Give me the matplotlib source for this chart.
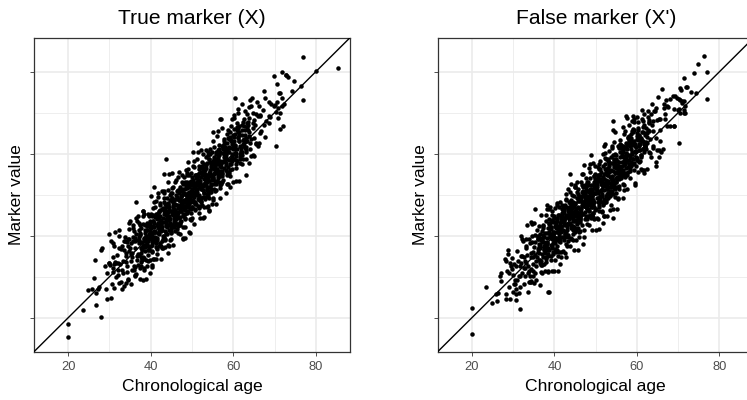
import matplotlib
matplotlib.use("Agg")
import matplotlib.pyplot as plt

plt.rcParams['font.family'] = ['Liberation Sans', 'DejaVu Sans']

# ---------------- data (age, marker value) ----------------
true_core = [
(29.4,30.8),(29.1,26.9),(29.8,33.3),(29.3,24.6),
(30.4,24.8),(30.1,32.9),(30.8,31.1),(30.3,38.6),(30.6,28.2),
(31.4,33.7),(31.1,27.2),(31.8,35.4),(31.3,41.0),(31.6,30.0),(31.0,33.0),
(32.4,41.3),(32.1,31.6),(32.8,28.6),(32.3,37.0),(32.6,33.2),(32.0,33.3),(32.9,36.8),
(33.4,36.5),(33.1,31.7),(33.8,39.8),(33.3,33.9),(33.6,27.7),(33.0,37.6),(33.9,35.8),(33.2,31.0),(33.7,38.6),
(34.4,39.1),(34.1,35.0),(34.8,41.7),(34.3,31.1),(34.6,37.4),(34.0,33.7),(34.9,43.5),(34.2,32.6),(34.7,36.2),(34.5,29.4),(34.2,38.5),
(35.4,34.9),(35.1,28.3),(35.8,39.7),(35.3,33.8),(35.6,42.5),(35.0,37.1),(35.9,32.5),(35.2,38.3),(35.7,41.8),(35.5,35.7),(35.2,35.5),(35.8,38.6),(35.4,31.7),
(36.4,44.4),(36.1,32.3),(36.8,39.0),(36.3,38.6),(36.6,35.0),(36.0,41.2),(36.9,32.8),(36.2,37.0),(36.7,43.6),(36.5,30.6),(36.2,39.5),(36.8,35.6),(36.4,40.4),(36.6,34.0),
(37.4,32.0),(37.1,43.0),(37.8,36.5),(37.3,40.2),(37.6,33.5),(37.0,44.9),(37.9,38.4),(37.2,35.4),(37.7,41.8),(37.5,29.4),(37.2,39.7),(37.8,37.1),(37.4,42.6),(37.6,32.5),(37.3,40.7),(37.9,34.3),
(38.4,37.7),(38.1,46.0),(38.8,34.0),(38.3,39.1),(38.6,41.4),(38.0,36.9),(38.9,29.5),(38.2,44.8),(38.7,38.8),(38.5,42.7),(38.2,34.4),(38.8,40.0),(38.4,45.4),(38.6,37.3),(38.3,32.0),(38.9,39.8),(38.1,34.9),
(39.4,33.9),(39.1,43.0),(39.8,39.9),(39.3,45.4),(39.6,36.8),(39.0,42.3),(39.9,31.0),(39.2,41.5),(39.7,40.3),(39.5,36.4),(39.2,42.8),(39.8,34.1),(39.4,38.8),(39.6,44.9),(39.3,37.6),(39.9,41.1),(39.1,32.7),(39.7,43.6),
(40.4,40.2),(40.1,40.0),(40.8,43.1),(40.3,36.2),(40.6,46.7),(40.0,41.9),(40.9,38.8),(40.2,44.9),(40.7,34.3),(40.5,42.4),(40.2,40.6),(40.8,48.1),(40.4,37.7),(40.6,43.6),(40.3,35.9),(40.9,41.2),(40.1,45.4),(40.7,39.4),(40.3,32.8),
(41.4,35.6),(41.1,44.5),(41.8,40.6),(41.3,45.4),(41.6,39.0),(41.0,47.1),(41.9,41.3),(41.2,34.2),(41.7,43.2),(41.5,36.7),(41.2,44.9),(41.8,50.5),(41.4,39.5),(41.6,42.5),(41.3,38.1),(41.9,46.0),(41.1,40.9),(41.7,49.4),(41.3,37.3),(41.5,44.0),
(42.4,34.4),(42.1,44.7),(42.8,42.1),(42.3,47.6),(42.6,37.5),(42.0,45.7),(42.9,39.3),(42.2,43.8),(42.7,50.8),(42.5,41.1),(42.2,38.1),(42.8,46.5),(42.4,42.7),(42.6,42.8),(42.3,46.3),(42.9,39.9),(42.1,44.0),(42.7,37.0),(42.3,48.0),(42.5,41.5),
(43.4,47.7),(43.1,39.4),(43.8,45.0),(43.3,50.4),(43.6,42.3),(43.0,37.0),(43.9,44.8),(43.2,39.9),(43.7,46.0),(43.5,41.2),(43.2,49.3),(43.8,43.4),(43.4,37.2),(43.6,47.1),(43.3,45.3),(43.9,40.5),(43.1,48.1),(43.7,42.7),(43.3,51.0),(43.5,39.0),(43.8,44.1),
(44.4,41.4),(44.1,47.8),(44.8,39.1),(44.3,43.8),(44.6,49.9),(44.0,42.6),(44.9,46.1),(44.2,37.7),(44.7,48.6),(44.5,44.5),(44.2,51.2),(44.8,40.6),(44.4,46.9),(44.6,43.2),(44.3,53.0),(44.9,42.1),(44.1,45.7),(44.7,38.9),(44.3,48.0),(44.5,44.9),(44.8,50.4),
(45.4,47.4),(45.1,45.6),(45.8,53.1),(45.3,42.7),(45.6,48.6),(45.0,40.9),(45.9,46.2),(45.2,50.4),(45.7,44.4),(45.5,37.8),(45.2,49.2),(45.8,43.3),(45.4,52.0),(45.6,46.6),(45.3,42.0),(45.9,47.8),(45.1,55.3),(45.7,45.2),(45.3,45.0),(45.5,48.1),(45.8,41.2),(45.2,51.7),
(46.4,41.7),(46.1,49.9),(46.8,55.5),(46.3,44.5),(46.6,47.5),(46.0,43.1),(46.9,51.0),(46.2,45.9),(46.7,54.4),(46.5,42.3),(46.2,49.0),(46.8,48.6),(46.4,45.0),(46.6,51.2),(46.3,42.8),(46.9,47.0),(46.1,53.6),(46.7,40.6),(46.3,49.5),(46.5,45.6),(46.8,50.4),(46.2,44.0),
(47.4,46.1),(47.1,43.1),(47.8,51.5),(47.3,47.7),(47.6,47.8),(47.0,51.3),(47.9,44.9),(47.2,49.0),(47.7,42.0),(47.5,53.0),(47.2,46.5),(47.8,50.2),(47.4,43.5),(47.6,54.9),(47.3,48.4),(47.9,45.4),(47.1,51.8),(47.7,39.4),(47.3,49.7),(47.5,47.1),(47.8,52.6),(47.2,42.5),
(48.4,46.2),(48.1,54.3),(48.8,48.4),(48.3,42.2),(48.6,52.1),(48.0,50.3),(48.9,45.5),(48.2,53.1),(48.7,47.7),(48.5,56.0),(48.2,44.0),(48.8,49.1),(48.4,51.4),(48.6,46.9),(48.3,39.5),(48.9,54.8),(48.1,48.8),(48.7,52.7),(48.3,44.4),(48.5,50.0),(48.8,55.4),(48.2,47.3),
(49.4,49.5),(49.1,56.2),(49.8,45.6),(49.3,51.9),(49.6,48.2),(49.0,58.0),(49.9,47.1),(49.2,50.7),(49.7,43.9),(49.5,53.0),(49.2,49.9),(49.8,55.4),(49.4,46.8),(49.6,52.3),(49.3,41.0),(49.9,51.5),(49.1,50.3),(49.7,46.4),(49.3,52.8),(49.5,44.1),(49.8,48.8),(49.2,54.9),
(50.4,42.8),(50.1,54.2),(50.8,48.3),(50.3,57.0),(50.6,51.6),(50.0,47.0),(50.9,52.8),(50.2,60.3),(50.7,50.2),(50.5,50.0),(50.2,53.1),(50.8,46.2),(50.4,56.7),(50.6,51.9),(50.3,48.8),(50.9,54.9),(50.1,44.3),(50.7,52.4),(50.3,50.6),(50.5,58.1),(50.8,47.7),(50.2,53.6),
(51.4,47.3),(51.1,54.0),(51.8,53.6),(51.3,50.0),(51.6,56.2),(51.0,47.8),(51.9,52.0),(51.2,58.6),(51.7,45.6),(51.5,54.5),(51.2,50.6),(51.8,55.4),(51.4,49.0),(51.6,57.1),(51.3,51.3),(51.9,44.2),(51.1,53.2),(51.7,46.7),(51.3,54.9),(51.5,60.5),(51.8,49.5),(51.2,52.5),
(52.4,58.0),(52.1,51.5),(52.8,55.2),(52.3,48.5),(52.6,59.9),(52.0,53.4),(52.9,50.4),(52.2,56.8),(52.7,44.4),(52.5,54.7),(52.2,52.1),(52.8,57.6),(52.4,47.5),(52.6,55.7),(52.3,49.3),(52.9,53.8),(52.1,60.8),(52.7,51.1),(52.3,48.1),(52.5,56.5),(52.8,52.7),
(53.4,61.0),(53.1,49.0),(53.8,54.1),(53.3,56.4),(53.6,51.9),(53.0,44.5),(53.9,59.8),(53.2,53.8),(53.7,57.7),(53.5,49.4),(53.2,55.0),(53.8,60.4),(53.4,52.3),(53.6,47.0),(53.3,54.8),(53.9,49.9),(53.1,56.0),(53.7,51.2),(53.3,59.3),(53.5,53.4),(53.8,47.2),
(54.4,58.0),(54.1,54.9),(54.8,60.4),(54.3,51.8),(54.6,57.3),(54.0,46.0),(54.9,56.5),(54.2,55.3),(54.7,51.4),(54.5,57.8),(54.2,49.1),(54.8,53.8),(54.4,59.9),(54.6,52.6),(54.3,56.1),(54.9,47.7),(54.1,58.6),(54.7,54.5),(54.3,61.2),(54.5,50.6),
(55.4,55.0),(55.1,58.1),(55.8,51.2),(55.3,61.7),(55.6,56.9),(55.0,53.8),(55.9,59.9),(55.2,49.3),(55.7,57.4),(55.5,55.6),(55.2,63.1),(55.8,52.7),(55.4,58.6),(55.6,50.9),(55.3,56.2),(55.9,60.4),(55.1,54.4),(55.7,47.8),(55.3,59.2),(55.5,53.3),
(56.4,59.5),(56.1,55.6),(56.8,60.4),(56.3,54.0),(56.6,62.1),(56.0,56.3),(56.9,49.2),(56.2,58.2),(56.7,51.7),(56.5,59.9),(56.2,65.5),(56.8,54.5),(56.4,57.5),(56.6,53.1),(56.3,61.0),(56.9,55.9),(56.1,64.4),(56.7,52.3),(56.3,59.0),
(57.4,60.2),(57.1,57.6),(57.8,63.1),(57.3,53.0),(57.6,61.2),(57.0,54.8),(57.9,59.3),(57.2,66.3),(57.7,56.6),(57.5,53.6),(57.2,62.0),(57.8,58.2),(57.4,58.3),(57.6,61.8),(57.3,55.4),(57.9,59.5),(57.1,52.5),(57.7,63.5),
(58.4,54.9),(58.1,60.5),(58.8,65.9),(58.3,57.8),(58.6,52.5),(58.0,60.3),(58.9,55.4),(58.2,61.5),(58.7,56.7),(58.5,64.8),(58.2,58.9),(58.8,52.7),(58.4,62.6),(58.6,60.8),(58.3,56.0),(58.9,63.6),(58.1,58.2),
(59.4,63.3),(59.1,54.6),(59.8,59.3),(59.3,65.4),(59.6,58.1),(59.0,61.6),(59.9,53.2),(59.2,64.1),(59.7,60.0),(59.5,66.7),(59.2,56.1),(59.8,62.4),(59.4,58.7),(59.6,68.5),(59.3,57.6),(59.9,61.2),
(60.4,61.1),(60.1,68.6),(60.8,58.2),(60.3,64.1),(60.6,56.4),(60.0,61.7),(60.9,65.9),(60.2,59.9),(60.7,53.3),(60.5,64.7),(60.2,58.8),(60.8,67.5),(60.4,62.1),(60.6,57.5),
(61.4,65.4),(61.1,71.0),(61.8,60.0),(61.3,63.0),(61.6,58.6),(61.0,66.5),(61.9,61.4),(61.2,69.9),(61.7,57.8),(61.5,64.5),(61.2,64.1),(61.8,60.5),(61.4,66.7),
(62.4,58.6),(62.1,67.0),(62.8,63.2),(62.3,63.3),(62.6,66.8),(62.0,60.4),(62.9,64.5),(62.2,57.5),(62.7,68.5),(62.5,62.0),(62.2,65.7),
(63.4,69.8),(63.1,63.9),(63.8,57.7),(63.3,67.6),(63.6,65.8),(63.0,61.0),(63.9,68.6),(63.2,63.2),(63.7,71.5),
(64.4,71.7),(64.1,61.1),(64.8,67.4),(64.3,63.7),(64.6,73.5),(64.0,62.6),(64.9,66.2),(64.2,59.4),
(65.4,69.7),(65.1,63.8),(65.8,72.5),(65.3,67.1),(65.6,62.5),(65.0,68.3),
(66.4,69.5),(66.1,69.1),(66.8,65.5),(66.3,71.7),
(67.4,67.0),(67.1,70.7),(67.8,64.0),
]

true_dense = [
(37.15,38.1),(37.65,35.7),(37.35,40.4),(37.85,34.1),(37.05,38.9),(37.55,37.0),(37.25,41.3),(37.75,34.9),
(38.15,37.4),(38.65,40.7),(38.35,34.6),(38.85,38.7),(38.05,42.8),(38.55,36.3),(38.25,39.5),(38.75,37.7),
(39.15,41.4),(39.65,39.3),(39.35,36.6),(39.85,42.8),(39.05,38.0),(39.55,40.4),(39.25,35.3),(39.75,42.0),
(40.15,40.1),(40.65,43.6),(40.35,39.2),(40.85,42.2),(40.05,37.4),(40.55,45.1),(40.25,38.5),(40.75,40.9),
(41.15,39.7),(41.65,44.4),(41.35,38.1),(41.85,42.9),(41.05,41.0),(41.55,45.3),(41.25,38.9),(41.75,42.1),
(42.15,44.7),(42.65,38.6),(42.35,42.7),(42.85,46.8),(42.05,40.3),(42.55,43.5),(42.25,41.7),(42.75,41.4),
(43.15,43.3),(43.65,40.6),(43.35,46.8),(43.85,42.0),(43.05,44.4),(43.55,39.3),(43.25,46.0),(43.75,45.4),
(44.15,47.6),(44.65,43.2),(44.35,46.2),(44.85,41.4),(44.05,49.1),(44.55,42.5),(44.25,44.9),(44.75,44.1),
(45.15,48.4),(45.65,42.1),(45.35,46.9),(45.85,45.0),(45.05,49.3),(45.55,42.9),(45.25,46.1),(45.75,43.7),
(46.15,42.6),(46.65,46.7),(46.35,50.8),(46.85,44.3),(46.05,47.5),(46.55,45.7),(46.25,45.4),(46.75,48.7),
(47.15,44.6),(47.65,50.8),(47.35,46.0),(47.85,48.4),(47.05,43.3),(47.55,50.0),(47.25,49.4),(47.75,47.3),
(48.15,47.2),(48.65,50.2),(48.35,45.4),(48.85,53.1),(48.05,46.5),(48.55,48.9),(48.25,48.1),(48.75,51.6),
(49.15,46.1),(49.65,50.9),(49.35,49.0),(49.85,53.3),(49.05,46.9),(49.55,50.1),(49.25,47.7),(49.75,52.4),
(50.15,50.7),(50.65,54.8),(50.35,48.3),(50.85,51.5),(50.05,49.7),(50.55,49.4),(50.25,52.7),(50.75,46.6),
(51.15,54.8),(51.65,50.0),(51.35,52.4),(51.85,47.3),(51.05,54.0),(51.55,53.4),(51.25,51.3),(51.75,48.6),
(52.15,54.2),(52.65,49.4),(52.35,57.1),(52.85,50.5),(52.05,52.9),(52.55,52.1),(52.25,55.6),(52.75,51.2),
(53.15,54.9),(53.65,53.0),(53.35,57.3),(53.85,50.9),(53.05,54.1),(53.55,51.7),(53.25,56.4),(53.75,50.1),
(54.15,58.8),(54.65,52.3),(54.35,55.5),(54.85,53.7),(54.05,53.4),(54.55,56.7),(54.25,50.6),(54.75,54.7),
(55.15,54.0),(55.65,56.4),(55.35,51.3),(55.85,58.0),(55.05,57.4),(55.55,55.3),(55.25,52.6),(55.75,58.8),
(56.15,53.4),(56.65,61.1),(56.35,54.5),(56.85,56.9),(56.05,56.1),(56.55,59.6),(56.25,55.2),(56.75,58.2),
(57.15,58.0),(57.65,62.3),(57.35,55.9),(57.85,59.1),(57.05,56.7),(57.55,61.4),(57.25,55.1),(57.75,59.9),
(58.15,57.3),(58.65,60.5),(58.35,58.7),(58.85,58.4),(58.05,61.7),(58.55,55.6),(58.25,59.7),(58.75,63.8),
(59.15,61.4),(59.65,56.3),(59.35,63.0),(59.85,62.4),(59.05,60.3),(59.55,57.6),(59.25,63.8),(59.75,59.0),
(60.15,66.1),(60.65,59.5),(60.35,61.9),(60.85,61.1),(60.05,64.6),(60.55,60.2),(60.25,63.2),(60.75,58.4),
(61.15,66.3),(61.65,59.9),(61.35,63.1),(61.85,60.7),(61.05,65.4),(61.55,59.1),(61.25,63.9),(61.75,62.0),
(62.15,64.5),(62.65,62.7),(62.35,62.4),(62.85,65.7),(62.05,59.6),(62.55,63.7),(62.25,67.8),(62.75,61.3),
(63.15,60.3),(63.65,67.0),(63.35,66.4),(63.85,64.3),(63.05,61.6),(63.55,67.8),(63.25,63.0),(63.75,65.4),
]

true_sparse = [
(76.8,83.5),(85.3,81.0),(80.0,80.1),(69.9,79.0),(71.7,80.0),(72.7,79.2),(73.3,78.8),(74.7,77.7),
(76.4,76.5),(74.2,75.4),(76.8,73.1),(70.7,77.0),(71.1,74.7),(67.4,75.4),(67.7,73.7),(60.4,73.7),
(64.1,73.1),(68.7,72.5),(69.9,71.7),(70.5,72.5),(71.9,73.7),(71.7,71.7),(72.2,72.2),(71.3,69.9),
(72.1,66.8),(71.3,66.0),(70.3,61.9),(56.8,68.5),(62.9,70.3),(64.8,69.9),(66.6,69.1),(68.6,69.1),
(68.6,67.4),(66.4,65.0),(65.4,62.4),(66.2,62.6),(65.1,59.5),(63.2,58.7),(51.5,62.6),(43.7,58.6),
(43.3,55.1),(44.5,55.1),(40.9,52.0),(40.1,49.6),(41.3,48.4),(36.4,48.1),(38.1,46.0),(30.0,40.3),
(32.4,39.9),(34.8,43.1),(28.3,37.0),(28.0,36.5),(26.6,34.0),(29.0,32.7),(30.8,34.8),(26.2,29.7),
(24.9,26.7),(25.7,26.9),(27.1,27.1),(26.7,26.1),(27.5,27.5),(23.6,21.9),(26.7,23.0),(27.9,20.2),
(20.0,18.5),(20.0,15.4),(33.0,26.9),(32.4,28.5),(34.0,28.5),(34.4,29.3),(36.3,30.1),(38.2,29.3),
(40.3,32.3),(38.3,31.6),(36.0,31.6),(36.1,30.5),(32.0,30.5),(30.0,33.4),(31.6,33.4),(30.8,32.2),
(30.8,38.2),(31.2,37.4),(33.6,38.7),(34.8,39.1),(40.5,34.2),(42.1,37.4),(44.1,35.8),(44.5,37.4),
(47.0,40.3),(47.8,39.1),(49.4,40.7),(52.8,47.0),(54.1,46.2),(55.1,48.8),(58.3,50.4),(59.1,52.0),
(61.5,53.3),(63.2,54.9),(64.9,59.7),(65.9,61.8),(57.3,54.5),(69.2,72.1),(70.0,72.0),(70.8,71.2),
(70.4,70.2),(68.8,68.9),(70.8,68.7),(68.0,67.9),(72.9,79.3),(71.3,74.8),(62.2,72.1),(60.1,69.5),
(55.1,65.2),(57.1,68.4),
]

false_core = [
(28.7,35.6),(28.2,24.6),(28.5,31.5),(28.9,27.6),
(29.7,34.6),(29.2,24.5),(29.5,32.7),(29.9,26.3),(29.0,30.8),
(30.7,26.9),(30.2,33.0),(30.5,28.2),(30.9,36.3),(30.0,30.4),(30.6,24.2),
(31.7,27.6),(31.2,33.9),(31.5,30.2),(31.9,40.0),(31.0,29.1),(31.6,32.7),(31.3,25.9),
(32.7,34.8),(32.2,39.3),(32.5,32.2),(32.9,32.0),(32.0,35.1),(32.6,28.2),(32.3,38.7),(32.8,33.9),(32.1,30.8),
(33.7,32.6),(33.2,37.4),(33.5,31.0),(33.9,39.1),(33.0,33.3),(33.6,26.2),(33.3,35.2),(33.8,28.7),(33.1,36.9),(33.4,42.5),(33.9,31.5),
(34.7,31.3),(34.2,35.8),(34.5,42.8),(34.9,33.1),(34.0,30.1),(34.6,38.5),(34.3,34.7),(34.8,34.8),(34.1,38.3),(34.4,31.9),(34.9,36.0),(34.2,29.0),(34.6,40.0),
(35.7,41.3),(35.2,35.4),(35.5,29.2),(35.9,39.1),(35.0,37.3),(35.6,32.5),(35.3,40.1),(35.8,34.7),(35.1,43.0),(35.4,31.0),(35.9,36.1),(35.2,38.4),(35.6,33.9),(35.0,28.5),
(36.7,45.0),(36.2,34.1),(36.5,37.7),(36.9,30.9),(36.0,40.0),(36.6,36.9),(36.3,42.4),(36.8,33.8),(36.1,39.3),(36.4,28.0),(36.9,38.5),(36.2,37.3),(36.6,33.4),(36.0,39.8),(36.7,31.1),(36.3,35.8),
(37.7,37.0),(37.2,40.1),(37.5,33.2),(37.9,43.7),(37.0,38.9),(37.6,35.8),(37.3,41.9),(37.8,31.3),(37.1,39.4),(37.4,37.6),(37.9,45.1),(37.2,34.7),(37.6,40.6),(37.0,32.9),(37.7,38.2),(37.3,42.4),(37.5,36.4),
(38.7,44.1),(38.2,38.3),(38.5,31.2),(38.9,40.2),(38.0,33.7),(38.6,41.9),(38.3,47.5),(38.8,36.5),(38.1,39.5),(38.4,35.1),(38.9,43.0),(38.2,37.9),(38.6,46.4),(38.0,34.3),(38.7,41.0),(38.3,40.6),(38.5,37.0),(38.8,43.2),
(39.7,38.1),(39.2,35.1),(39.5,43.5),(39.9,39.7),(39.0,39.8),(39.6,43.3),(39.3,36.9),(39.8,41.0),(39.1,34.0),(39.4,45.0),(39.9,38.5),(39.2,42.2),(39.6,35.5),(39.0,46.9),(39.7,40.4),(39.3,37.4),(39.5,43.8),(39.8,31.4),(39.1,41.7),
(40.7,44.1),(40.2,42.3),(40.5,37.5),(40.9,45.1),(40.0,39.7),(40.6,48.0),(40.3,36.0),(40.8,41.1),(40.1,43.4),(40.4,38.9),(40.9,31.5),(40.2,46.8),(40.6,40.8),(40.0,44.7),(40.7,36.4),(40.3,42.0),(40.5,47.4),(40.8,39.3),(40.1,34.0),(40.4,41.8),
(41.7,35.9),(41.2,45.0),(41.5,41.9),(41.9,47.4),(41.0,38.8),(41.6,44.3),(41.3,33.0),(41.8,43.5),(41.1,42.3),(41.4,38.4),(41.9,44.8),(41.2,36.1),(41.6,40.8),(41.0,46.9),(41.7,39.6),(41.3,43.1),(41.5,34.7),(41.8,45.6),(41.1,41.5),(41.4,48.2),
(42.7,48.7),(42.2,43.9),(42.5,40.8),(42.9,46.9),(42.0,36.3),(42.6,44.4),(42.3,42.6),(42.8,50.1),(42.1,39.7),(42.4,45.6),(42.9,37.9),(42.2,43.2),(42.6,47.4),(42.0,41.4),(42.7,34.8),(42.3,46.2),(42.5,40.3),(42.8,49.0),(42.1,43.6),(42.4,39.0),(42.9,44.8),
(43.7,45.2),(43.2,38.7),(43.5,46.9),(43.9,52.5),(43.0,41.5),(43.6,44.5),(43.3,40.1),(43.8,48.0),(43.1,42.9),(43.4,51.4),(43.9,39.3),(43.2,46.0),(43.6,45.6),(43.0,42.0),(43.7,48.2),(43.3,39.8),(43.5,44.0),(43.8,50.6),(43.1,37.6),(43.4,46.5),(43.9,42.6),
(44.7,44.7),(44.2,44.8),(44.5,48.3),(44.9,41.9),(44.0,46.0),(44.6,39.0),(44.3,50.0),(44.8,43.5),(44.1,47.2),(44.4,40.5),(44.9,51.9),(44.2,45.4),(44.6,42.4),(44.0,48.8),(44.7,36.4),(44.3,46.7),(44.5,44.1),(44.8,49.6),(44.1,39.5),(44.4,47.7),(44.6,41.3),(44.2,45.8),
(45.7,50.1),(45.2,44.7),(45.5,53.0),(45.9,41.0),(45.0,46.1),(45.6,48.4),(45.3,43.9),(45.8,36.5),(45.1,51.8),(45.4,45.8),(45.9,49.7),(45.2,41.4),(45.6,47.0),(45.0,52.4),(45.7,44.3),(45.3,39.0),(45.5,46.8),(45.8,41.9),(45.1,48.0),(45.4,43.2),(45.6,51.3),(45.2,45.4),
(46.7,52.4),(46.2,43.8),(46.5,49.3),(46.9,38.0),(46.0,48.5),(46.6,47.3),(46.3,43.4),(46.8,49.8),(46.1,41.1),(46.4,45.8),(46.9,51.9),(46.2,44.6),(46.6,48.1),(46.0,39.7),(46.7,50.6),(46.3,46.5),(46.5,53.2),(46.8,42.6),(46.1,48.9),(46.4,45.2),(46.6,55.0),(46.2,44.1),
(47.7,51.9),(47.2,41.3),(47.5,49.4),(47.9,47.6),(47.0,55.1),(47.6,44.7),(47.3,50.6),(47.8,42.9),(47.1,48.2),(47.4,52.4),(47.9,46.4),(47.2,39.8),(47.6,51.2),(47.0,45.3),(47.7,54.0),(47.3,48.6),(47.5,44.0),(47.8,49.8),(47.1,57.3),(47.4,47.2),(47.6,47.0),(47.2,50.1),
(48.7,57.5),(48.2,46.5),(48.5,49.5),(48.9,45.1),(48.0,53.0),(48.6,47.9),(48.3,56.4),(48.8,44.3),(48.1,51.0),(48.4,50.6),(48.9,47.0),(48.2,53.2),(48.6,44.8),(48.0,49.0),(48.7,55.6),(48.3,42.6),(48.5,51.5),(48.8,47.6),(48.1,52.4),(48.4,46.0),(48.6,54.1),(48.2,48.3),
(49.7,46.9),(49.2,51.0),(49.5,44.0),(49.9,55.0),(49.0,48.5),(49.6,52.2),(49.3,45.5),(49.8,56.9),(49.1,50.4),(49.4,47.4),(49.9,53.8),(49.2,41.4),(49.6,51.7),(49.0,49.1),(49.7,54.6),(49.3,44.5),(49.5,52.7),(49.8,46.3),(49.1,50.8),(49.4,57.8),(49.6,48.1),(49.2,45.1),
(50.7,46.0),(50.2,51.1),(50.5,53.4),(50.9,48.9),(50.0,41.5),(50.6,56.8),(50.3,50.8),(50.8,54.7),(50.1,46.4),(50.4,52.0),(50.9,57.4),(50.2,49.3),(50.6,44.0),(50.0,51.8),(50.7,46.9),(50.3,53.0),(50.5,48.2),(50.8,56.3),(50.1,50.4),(50.4,44.2),(50.6,54.1),(50.2,52.3),
(51.7,43.0),(51.2,53.5),(51.5,52.3),(51.9,48.4),(51.0,54.8),(51.6,46.1),(51.3,50.8),(51.8,56.9),(51.1,49.6),(51.4,53.1),(51.9,44.7),(51.2,55.6),(51.6,51.5),(51.0,58.2),(51.7,47.6),(51.3,53.9),(51.5,50.2),(51.8,60.0),(51.1,49.1),(51.4,52.7),(51.6,45.9),
(52.7,52.6),(52.2,60.1),(52.5,49.7),(52.9,55.6),(52.0,47.9),(52.6,53.2),(52.3,57.4),(52.8,51.4),(52.1,44.8),(52.4,56.2),(52.9,50.3),(52.2,59.0),(52.6,53.6),(52.0,49.0),(52.7,54.8),(52.3,62.3),(52.5,52.2),(52.8,52.0),(52.1,55.1),(52.4,48.2),(52.6,58.7),
(53.7,50.1),(53.2,58.0),(53.5,52.9),(53.9,61.4),(53.0,49.3),(53.6,56.0),(53.3,55.6),(53.8,52.0),(53.1,58.2),(53.4,49.8),(53.9,54.0),(53.2,60.6),(53.6,47.6),(53.0,56.5),(53.7,52.6),(53.3,57.4),(53.5,51.0),(53.8,59.1),(53.1,53.3),(53.4,46.2),
(54.7,60.0),(54.2,53.5),(54.5,57.2),(54.9,50.5),(54.0,61.9),(54.6,55.4),(54.3,52.4),(54.8,58.8),(54.1,46.4),(54.4,56.7),(54.9,54.1),(54.2,59.6),(54.6,49.5),(54.0,57.7),(54.7,51.3),(54.3,55.8),(54.5,62.8),(54.8,53.1),(54.1,50.1),(54.4,58.5),
(55.7,53.9),(55.2,46.5),(55.5,61.8),(55.9,55.8),(55.0,59.7),(55.6,51.4),(55.3,57.0),(55.8,62.4),(55.1,54.3),(55.4,49.0),(55.9,56.8),(55.2,51.9),(55.6,58.0),(55.0,53.2),(55.7,61.3),(55.3,55.4),(55.5,49.2),(55.8,59.1),(55.1,57.3),
(56.7,54.9),(56.2,61.3),(56.5,52.6),(56.9,57.3),(56.0,63.4),(56.6,56.1),(56.3,59.6),(56.8,51.2),(56.1,62.1),(56.4,58.0),(56.9,64.7),(56.2,54.1),(56.6,60.4),(56.0,56.7),(56.7,66.5),(56.3,55.6),(56.5,59.2),(56.8,52.4),
(57.7,62.1),(57.2,54.4),(57.5,59.7),(57.9,63.9),(57.0,57.9),(57.6,51.3),(57.3,62.7),(57.8,56.8),(57.1,65.5),(57.4,60.1),(57.9,55.5),(57.2,61.3),(57.6,68.8),(57.0,58.7),(57.7,58.5),(57.3,61.6),(57.5,54.7),
(58.7,67.9),(58.2,55.8),(58.5,62.5),(58.9,62.1),(58.0,58.5),(58.6,64.7),(58.3,56.3),(58.8,60.5),(58.1,67.1),(58.4,54.1),(58.9,63.0),(58.2,59.1),(58.6,63.9),(58.0,57.5),(58.7,65.6),(58.3,59.8),
(59.7,57.0),(59.2,68.4),(59.5,61.9),(59.9,58.9),(59.0,65.3),(59.6,52.9),(59.3,63.2),(59.8,60.6),(59.1,66.1),(59.4,56.0),(59.9,64.2),(59.2,57.8),(59.6,62.3),(59.0,69.3),
(60.7,62.3),(60.2,66.2),(60.5,57.9),(60.9,63.5),(60.0,68.9),(60.6,60.8),(60.3,55.5),(60.8,63.3),(60.1,58.4),(60.4,64.5),(60.9,59.7),(60.2,67.8),(60.6,61.9),
(61.7,62.3),(61.2,68.4),(61.5,61.1),(61.9,64.6),(61.0,56.2),(61.6,67.1),(61.3,63.0),(61.8,69.7),(61.1,59.1),(61.4,65.4),(61.9,61.7),
(62.7,68.9),(62.2,62.9),(62.5,56.3),(62.9,67.7),(62.0,61.8),(62.6,70.5),(62.3,65.1),(62.8,60.5),(62.1,66.3),
(63.7,67.1),(63.2,63.5),(63.5,69.7),(63.9,61.3),(63.0,65.5),(63.6,72.1),(63.3,59.1),(63.8,68.0),
(64.7,63.9),(64.2,70.3),(64.5,57.9),(64.9,68.2),(64.0,65.6),(64.6,71.1),
(65.7,68.5),(65.2,73.9),(65.5,65.8),(65.9,60.5),
(66.7,69.6),(66.2,61.2),(66.5,72.1),
]

false_dense = [
(36.45,40.3),(36.95,35.5),(36.15,37.9),(36.65,32.8),(36.35,39.5),(36.85,38.9),(36.05,36.8),(36.55,34.1),
(37.45,39.7),(37.95,34.9),(37.15,42.6),(37.65,36.0),(37.35,38.4),(37.85,37.6),(37.05,41.1),(37.55,36.7),
(38.45,35.6),(38.95,40.4),(38.15,38.5),(38.65,42.8),(38.35,36.4),(38.85,39.6),(38.05,37.2),(38.55,41.9),
(39.45,40.2),(39.95,44.3),(39.15,37.8),(39.65,41.0),(39.35,39.2),(39.85,38.9),(39.05,42.2),(39.55,36.1),
(40.45,39.5),(40.95,41.9),(40.15,36.8),(40.65,43.5),(40.35,42.9),(40.85,40.8),(40.05,38.1),(40.55,44.3),
(41.45,38.9),(41.95,46.6),(41.15,40.0),(41.65,42.4),(41.35,41.6),(41.85,45.1),(41.05,40.7),(41.55,43.7),
(42.45,44.4),(42.95,42.5),(42.15,46.8),(42.65,40.4),(42.35,43.6),(42.85,41.2),(42.05,45.9),(42.55,39.6),
(43.45,48.3),(43.95,41.8),(43.15,45.0),(43.65,43.2),(43.35,42.9),(43.85,46.2),(43.05,40.1),(43.55,44.2),
(44.45,45.9),(44.95,40.8),(44.15,47.5),(44.65,46.9),(44.35,44.8),(44.85,42.1),(44.05,48.3),(44.55,43.5),
(45.45,50.6),(45.95,44.0),(45.15,46.4),(45.65,45.6),(45.35,49.1),(45.85,44.7),(45.05,47.7),(45.55,42.9),
(46.45,46.5),(46.95,50.8),(46.15,44.4),(46.65,47.6),(46.35,45.2),(46.85,49.9),(46.05,43.6),(46.55,48.4),
(47.45,45.8),(47.95,49.0),(47.15,47.2),(47.65,46.9),(47.35,50.2),(47.85,44.1),(47.05,48.2),(47.55,52.3),
(48.45,44.8),(48.95,51.5),(48.15,50.9),(48.65,48.8),(48.35,46.1),(48.85,52.3),(48.05,47.5),(48.55,49.9),
(49.45,48.0),(49.95,50.4),(49.15,49.6),(49.65,53.1),(49.35,48.7),(49.85,51.7),(49.05,46.9),(49.55,54.6),
(50.45,54.8),(50.95,48.4),(50.15,51.6),(50.65,49.2),(50.35,53.9),(50.85,47.6),(50.05,52.4),(50.55,50.5),
(51.45,53.0),(51.95,51.2),(51.15,50.9),(51.65,54.2),(51.35,48.1),(51.85,52.2),(51.05,56.3),(51.55,49.8),
(52.45,55.5),(52.95,54.9),(52.15,52.8),(52.65,50.1),(52.35,56.3),(52.85,51.5),(52.05,53.9),(52.55,48.8),
(53.45,54.4),(53.95,53.6),(53.15,57.1),(53.65,52.7),(53.35,55.7),(53.85,50.9),(53.05,58.6),(53.55,52.0),
(54.45,52.4),(54.95,55.6),(54.15,53.2),(54.65,57.9),(54.35,51.6),(54.85,56.4),(54.05,54.5),(54.55,58.8),
(55.45,55.2),(55.95,54.9),(55.15,58.2),(55.65,52.1),(55.35,56.2),(55.85,60.3),(55.05,53.8),(55.55,57.0),
(56.45,60.4),(56.95,58.3),(56.15,55.6),(56.65,61.8),(56.35,57.0),(56.85,59.4),(56.05,54.3),(56.55,61.0),
(57.45,59.1),(57.95,62.6),(57.15,58.2),(57.65,61.2),(57.35,56.4),(57.85,64.1),(57.05,57.5),(57.55,59.9),
(58.45,61.1),(58.95,58.7),(58.15,63.4),(58.65,57.1),(58.35,61.9),(58.85,60.0),(58.05,64.3),(58.55,57.9),
(59.45,60.4),(59.95,63.7),(59.15,57.6),(59.65,61.7),(59.35,65.8),(59.85,59.3),(59.05,62.5),(59.55,60.7),
(60.45,62.3),(60.95,59.6),(60.15,65.8),(60.65,61.0),(60.35,63.4),(60.85,58.3),(60.05,65.0),(60.55,64.4),
(61.45,66.6),(61.95,62.2),(61.15,65.2),(61.65,60.4),(61.35,68.1),(61.85,61.5),(61.05,63.9),(61.55,63.1),
(62.45,62.7),(62.95,67.4),(62.15,61.1),(62.65,65.9),(62.35,64.0),(62.85,68.3),(62.05,61.9),(62.55,65.1),
]

false_sparse = [
(76.2,83.8),(74.7,82.0),(76.9,80.0),(73.8,79.8),(71.3,78.4),(66.1,75.9),(70.5,76.0),(72.1,76.2),
(73.0,75.1),(74.2,74.7),(76.9,73.4),(68.7,74.1),(69.6,73.5),(70.5,73.1),(71.5,72.9),(67.1,73.1),
(67.5,71.5),(66.6,71.1),(69.9,70.7),(71.3,70.7),(71.6,70.0),(64.3,70.4),(61.2,70.7),(57.4,69.2),
(54.1,67.9),(68.9,66.8),(66.9,68.4),(65.3,68.4),(70.2,62.6),(64.6,57.1),(61.6,55.4),(59.6,52.4),
(56.6,49.2),(52.7,44.7),(54.3,44.3),(50.9,41.7),(48.9,59.6),(51.9,61.9),(54.3,65.8),(54.7,65.4),
(43.8,55.0),(35.4,46.4),(38.1,46.5),(39.3,46.0),(34.2,43.3),(28.7,36.5),(27.9,34.2),(28.2,33.8),
(27.0,31.0),(26.9,30.1),(27.1,28.9),(23.5,27.5),(25.8,25.8),(26.3,25.9),(28.2,25.7),(24.9,23.6),
(26.0,24.1),(30.8,25.8),(31.6,22.0),(20.0,22.3),(20.0,15.9),(38.5,26.3),(38.7,26.3),(39.3,31.4),
(38.5,31.4),(34.4,28.7),(34.0,28.7),(30.1,28.1),(30.4,29.3),(31.6,30.1),(32.8,30.1),(34.8,30.1),
(29.6,31.8),(30.6,32.6),(29.2,33.4),(32.2,35.0),(31.8,33.4),(33.2,39.1),(43.8,37.4),(40.9,35.0),
(42.5,35.8),(48.2,44.7),(49.4,45.5),(46.4,45.1),(56.8,55.3),(57.4,55.4),(61.2,56.1),(60.0,58.5),
(64.0,61.8),(64.8,61.0),(65.3,59.3),(63.2,60.1),(70.7,75.6),(71.9,76.3),(69.3,74.0),(70.1,73.4),
(68.1,73.4),(67.3,71.6),(68.9,70.8),(70.3,70.9),(70.9,72.4),(71.7,71.6),(71.5,69.9),(70.4,69.9),
(67.3,66.7),(68.1,66.7),(69.1,66.7),(70.9,72.8),(59.2,67.8),(65.7,63.0),(65.3,61.0),(61.6,56.1),
]

panel_titles = ["True marker (X)", "False marker (X')"]
x_label = "Chronological age"
y_label = "Marker value"
major_ticks = [20, 40, 60, 80]
minor_ticks = [30, 50, 70]
axis_range = (11.7, 88.3)

# ---------------- figure ----------------
W, H = 747, 400
fig = plt.figure(figsize=(W / 100, H / 100), dpi=100)

panels = [
    (34.0, true_core + true_dense + true_sparse, panel_titles[0]),
    (437.7, false_core + false_dense + false_sparse, panel_titles[1]),
]
panel_w, panel_h, panel_bottom = 316.0, 314.0, 351.7

for left_px, pts, title in panels:
    ax = fig.add_axes([left_px / W, (H - panel_bottom) / H, panel_w / W, panel_h / H])
    ax.set_xlim(*axis_range)
    ax.set_ylim(*axis_range)
    ax.set_xticks(major_ticks)
    ax.set_yticks(major_ticks)
    ax.set_xticks(minor_ticks, minor=True)
    ax.set_yticks(minor_ticks, minor=True)
    ax.grid(which='major', color='#EBEBEB', linewidth=1.2)
    ax.grid(which='minor', color='#EBEBEB', linewidth=0.6)
    ax.set_axisbelow(True)
    ax.tick_params(which='minor', length=0)
    ax.tick_params(which='major', length=2.8, width=0.6, color='#333333',
                   labelsize=9.3, labelcolor='#4D4D4D', pad=4.0)
    ax.tick_params(axis='y', labelleft=False)
    for sp in ax.spines.values():
        sp.set_color('#333333')
        sp.set_linewidth(0.9)
    ages = [p[0] for p in pts]
    vals = [p[1] for p in pts]
    ax.scatter(ages, vals, s=10.5, c='black', linewidths=0, zorder=3)
    ax.axline((axis_range[0], axis_range[0]), slope=1, color='black', linewidth=1.0, zorder=4)

    cx = (left_px + panel_w / 2) / W
    fig.text(cx, 1 - 18 / H, title, ha='center', va='center', fontsize=15.1)
    fig.text(cx, 1 - 390.5 / H, x_label, ha='center', va='baseline', fontsize=12.6)
    fig.text((left_px - 17.5) / W, (H - (panel_bottom - panel_h / 2)) / H, y_label,
             rotation=90, ha='center', va='center', fontsize=12.6)

fig.savefig("out.png", dpi=100, facecolor='white')
